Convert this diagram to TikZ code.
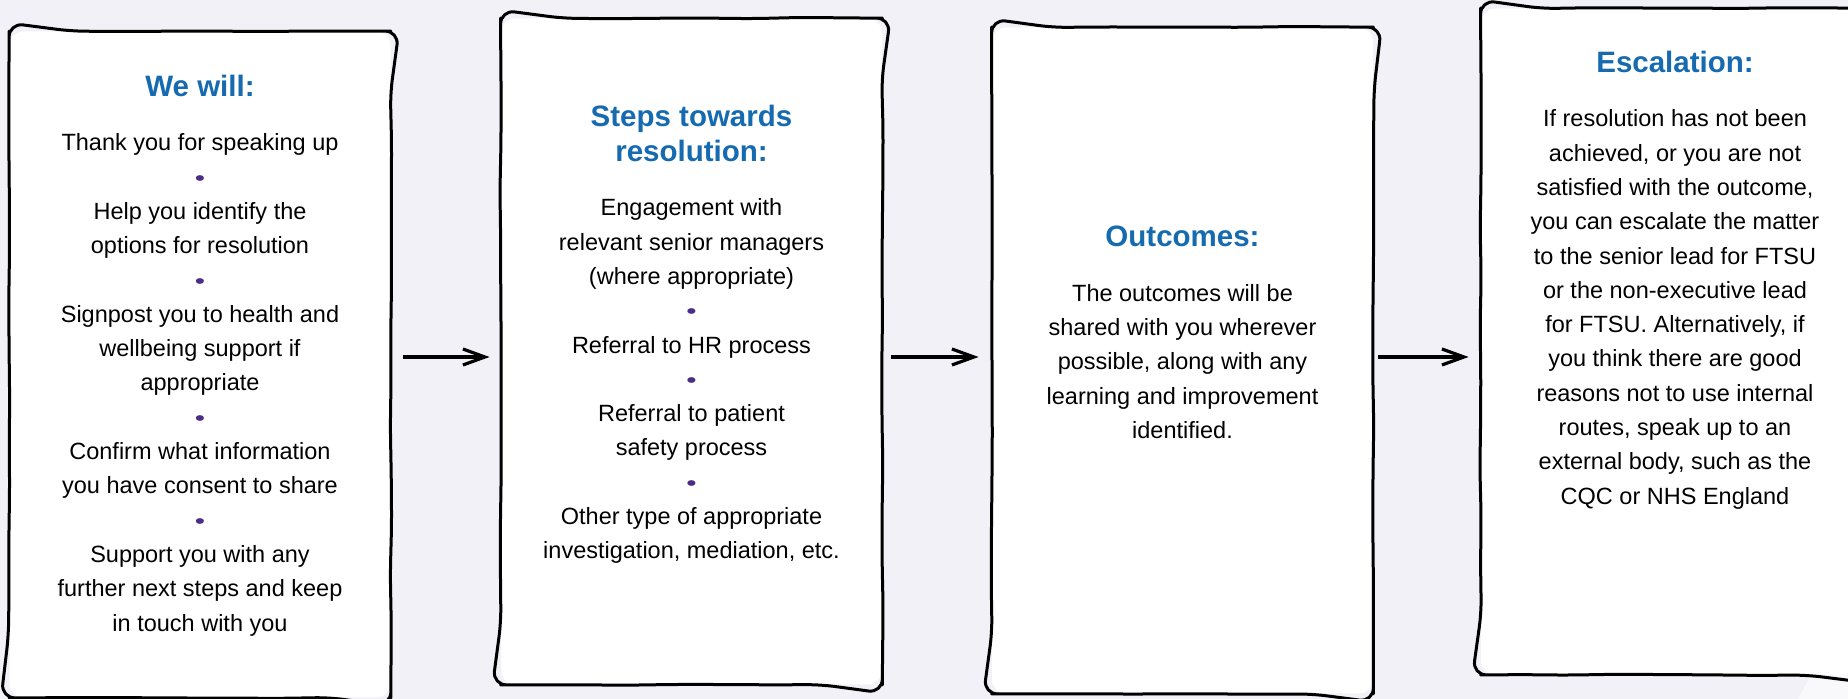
\documentclass[tikz,border=0pt]{standalone}
\usepackage{fontspec}
\setmainfont{Liberation Sans}
\usepackage{graphicx}
\usetikzlibrary{positioning,arrows.meta,decorations.pathmorphing}

\definecolor{pagebg}{RGB}{242,241,248}
\definecolor{headblue}{RGB}{22,106,176}
\definecolor{dotpurple}{RGB}{75,45,135}

\newcommand{\sepdot}{\textcolor{dotpurple}{\scalebox{1.25}[0.9]{\textbullet}}}

\begin{document}
\pgfmathsetseed{42}
\begin{tikzpicture}[
  x=0.5pt, y=-0.5pt,
  card/.style={fill=white, inner sep=0pt, rounded corners=7pt,
    minimum width=190.5pt, minimum height=333pt},
  rough/.style={draw=black, line width=1.5pt, line join=round,
    rounded corners=7pt, decorate,
    decoration={random steps, segment length=24pt, amplitude=0.35pt}},
  heading/.style={anchor=north, inner sep=0pt, align=center, text=headblue,
    font=\fontsize{14.75pt}{17.5pt}\selectfont\bfseries},
  body/.style={inner sep=0pt, align=center,
    font=\fontsize{11.75pt}{17.15pt}\selectfont},
  flow/.style={line width=1.6pt,
    -{Straight Barb[length=11pt,width=8pt,line width=1.6pt]}},
]
%%%page
\fill[pagebg] (0,0) rectangle (1848,699);
\fill[white!55!pagebg] (1798,699) -- (1830,640) -- (1848,640) -- (1848,699) -- cycle;
\useasboundingbox (0,0) rectangle (1848,699);

%%%cards
\node[card] (box1) at (200,364.5) {};
\node[card] (box2) at (691.5,351.5) {};
\node[card] (box3) at (1182.5,360.5) {};
\node[card, minimum width=194pt] (box4) at (1675,341.5) {};
\foreach \b in {box1,box2,box3,box4}
  \draw[rough] (\b.north) -- (\b.north east) -- (\b.south east)
    -- (\b.south west) -- (\b.north west) -- cycle;

%%%we will
\node[heading] (t1) at (200,75) {We will:};
\node[body, below=18pt of t1] (b1) {Thank you for speaking up\\
  \sepdot\\
  Help you identify the\\
  options for resolution\\
  \sepdot\\
  Signpost you to health and\\
  wellbeing support if\\
  appropriate\\
  \sepdot\\
  Confirm what information\\
  you have consent to share\\
  \sepdot\\
  Support you with any\\
  further next steps and keep\\
  in touch with you};

%%%steps
\node[heading] (t2) at (691.5,105) {Steps towards\\ resolution:};
\node[body, below=18pt of t2] (b2) {Engagement with\\
  relevant senior managers\\
  (where appropriate)\\
  \sepdot\\
  Referral to HR process\\
  \sepdot\\
  Referral to patient\\
  safety process\\
  \sepdot\\
  Other type of appropriate\\
  investigation, mediation, etc.};

%%%outcomes
\node[heading] (t3) at (1182.5,226) {Outcomes:};
\node[body, below=18pt of t3] (b3) {The outcomes will be\\
  shared with you wherever\\
  possible, along with any\\
  learning and improvement\\
  identified.};

%%%escalation
\node[heading] (t4) at (1675,51) {Escalation:};
\node[body, below=18pt of t4] (b4) {If resolution has not been\\
  achieved, or you are not\\
  satisfied with the outcome,\\
  you can escalate the matter\\
  to the senior lead for FTSU\\
  or the non-executive lead\\
  for FTSU. Alternatively, if\\
  you think there are good\\
  reasons not to use internal\\
  routes, speak up to an\\
  external body, such as the\\
  CQC or NHS England};

%%%arrows
\coordinate (lane) at (0,357);
\draw[flow] ([xshift=6pt]box1.east |- lane) -- ([xshift=-5.5pt]box2.west |- lane);
\draw[flow] ([xshift=4.5pt]box2.east |- lane) -- ([xshift=-6.5pt]box3.west |- lane);
\draw[flow] ([xshift=2.5pt]box3.east |- lane) -- ([xshift=-6pt]box4.west |- lane);

\end{tikzpicture}
\end{document}
